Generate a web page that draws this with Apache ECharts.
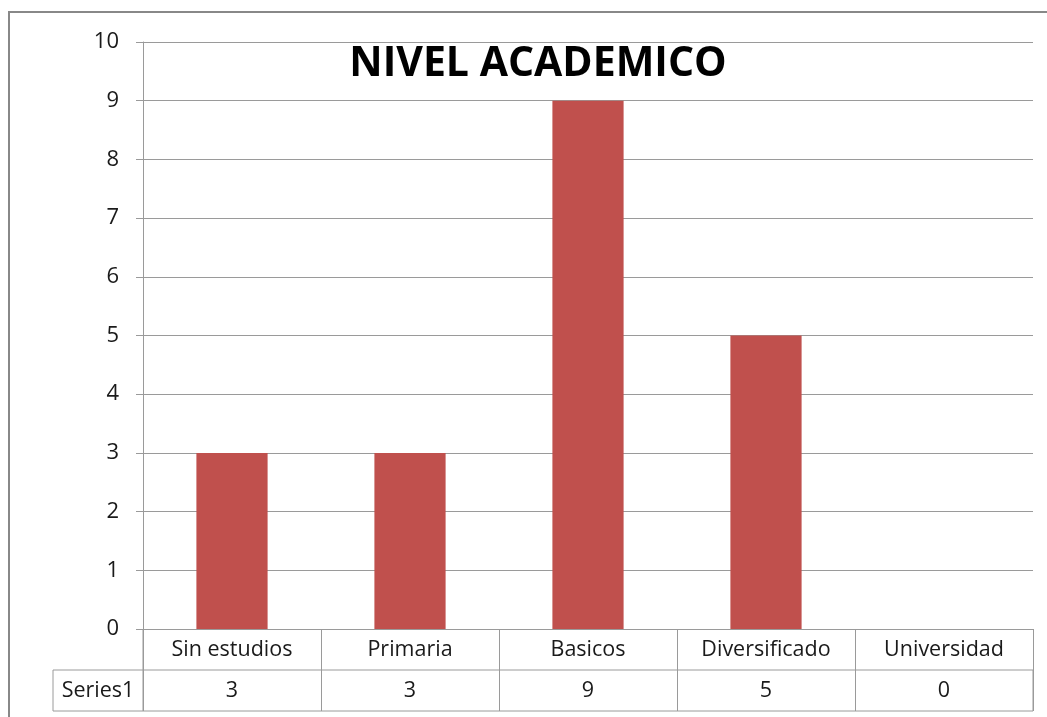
<!DOCTYPE html>
<html><head><meta charset="utf-8">
<script src="https://cdn.jsdelivr.net/npm/echarts@6/dist/echarts.min.js"></script>
<style>html,body{margin:0;padding:0;background:#fff}#c{width:1047px;height:717px}</style>
</head><body><div id="c"></div>
<script>
const titleText = 'NIVEL ACADEMICO';
const categories = ['Sin estudios', 'Primaria', 'Basicos', 'Diversificado', 'Universidad'];
const seriesName = 'Series1';
const values = [3, 3, 9, 5, 0];
const yTicks = [0, 1, 2, 3, 4, 5, 6, 7, 8, 9, 10];

const FONT = 'Open Sans';
const GRID = {left: 143, right: 14, top: 42, bottom: 88};
const ROW = 41;
const gridLine = '#9a9a9a';
const chart = echarts.init(document.getElementById('c'));
const W = 1047, H = 717;
const plotBottom = H - GRID.bottom;
const plotRight = W - GRID.right;

chart.setOption({
  animation: false,
  title: {
    text: titleText, left: 533, top: 39, textAlign: 'center',
    textStyle: {fontFamily: FONT, fontWeight: 'bold', fontSize: 41, color: '#000'}
  },
  grid: GRID,
  xAxis: {
    type: 'category', data: categories,
    axisLine: {show: true, lineStyle: {color: gridLine, width: 1}},
    axisTick: {show: true, length: ROW * 2, interval: 0, lineStyle: {color: gridLine, width: 1}},
    axisLabel: {
      interval: 0, margin: 0,
      formatter: (name, i) => '{a|' + name + '}\n{a|' + values[i] + '}',
      rich: {a: {fontFamily: FONT, fontSize: 21.5, color: '#1a1a1a', lineHeight: ROW, align: 'center'}}
    },
    splitLine: {show: false}
  },
  yAxis: {
    type: 'value', min: yTicks[0], max: yTicks[yTicks.length - 1], interval: 1,
    axisLine: {show: true, lineStyle: {color: gridLine, width: 1}},
    axisTick: {show: true, length: 7, lineStyle: {color: gridLine}},
    axisLabel: {fontFamily: FONT, fontSize: 22, color: '#1a1a1a', margin: 24},
    splitLine: {show: true, lineStyle: {color: gridLine, width: 1}}
  },
  series: [{
    name: seriesName, type: 'bar', data: values, barWidth: '40%',
    itemStyle: {color: '#C0504D'}
  }],
  graphic: [
    {type: 'rect', shape: {x: 9, y: 12, width: 1200, height: 900}, silent: true,
     style: {fill: null, stroke: '#888', lineWidth: 2}},
    {type: 'rect', shape: {x: 53, y: plotBottom + ROW, width: plotRight - 53, height: ROW}, silent: true,
     style: {fill: null, stroke: gridLine, lineWidth: 1}},
    {type: 'line', shape: {x1: GRID.left, y1: plotBottom, x2: GRID.left, y2: plotBottom + 2 * ROW},
     style: {stroke: gridLine, lineWidth: 1}},
    {type: 'text', x: (53 + GRID.left) / 2, y: plotBottom + ROW * 1.5, silent: true,
     style: {text: seriesName, fontFamily: FONT, fontSize: 21.5, fill: '#1a1a1a', align: 'center', verticalAlign: 'middle'}}
  ]
});
</script></body></html>
